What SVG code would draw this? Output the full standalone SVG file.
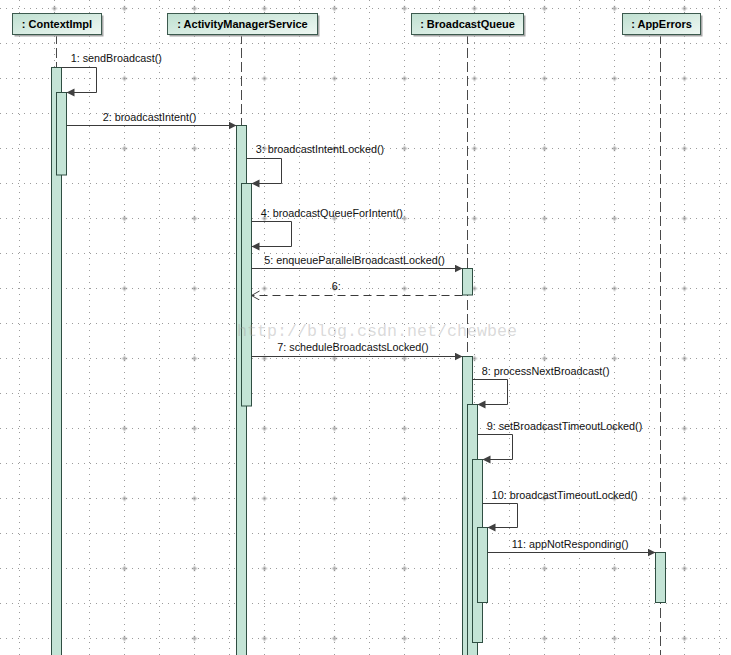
<svg xmlns="http://www.w3.org/2000/svg" width="731" height="655" viewBox="0 0 731 655">
<style>
.g{stroke:#9c9c9c;stroke-width:1;stroke-dasharray:1,5;fill:none}
.hd{fill:url(#hg);stroke:#3c5a4e;stroke-width:1}
.sh{fill:#a8a8a8}
.ht{font-family:"Liberation Sans",Arial,sans-serif;font-size:11px;font-weight:bold;fill:#000;text-anchor:middle}
.ll{stroke:#4a4a4a;stroke-width:1;stroke-dasharray:10,4;fill:none}
.ac{fill:#c4e4d6;stroke:#2f4e42;stroke-width:1}
.m{stroke:#3a3a3a;stroke-width:1;fill:none;marker-end:url(#af)}
.r{stroke:#3a3a3a;stroke-width:1;fill:none;stroke-dasharray:8,5;marker-end:url(#ao)}
.t{font-family:"Liberation Sans",Arial,sans-serif;font-size:10.8px;fill:#111}
</style>
<defs>
<linearGradient id="hg" x1="0" y1="0" x2="1" y2="1">
<stop offset="0" stop-color="#bfe0d1"/>
<stop offset="1" stop-color="#eef7f2"/>
</linearGradient>
<pattern id="cp" patternUnits="userSpaceOnUse" x="19.5" y="-26.5" width="70" height="70">
<path d="M32.5,35H37.5M35,32.5V37.5" stroke="#8a8a8a" stroke-width="1"/>
</pattern>
<marker id="af" markerUnits="userSpaceOnUse" markerWidth="9" markerHeight="9" refX="8" refY="4" orient="auto">
<path d="M0,0L8,4L0,8z" fill="#404040"/>
</marker>
<marker id="ao" markerUnits="userSpaceOnUse" markerWidth="10" markerHeight="10" refX="8" refY="4.5" orient="auto">
<path d="M0,0L8,4.5L0,9" fill="none" stroke="#404040" stroke-width="1"/>
</marker>
</defs>
<rect width="731" height="655" fill="#fff"/>
<g id="grid">
<path class="g" d="M19.5,0V655M54.5,0V655M89.5,0V655M124.5,0V655M159.5,0V655M194.5,0V655M229.5,0V655M264.5,0V655M299.5,0V655M334.5,0V655M369.5,0V655M404.5,0V655M439.5,0V655M474.5,0V655M509.5,0V655M544.5,0V655M579.5,0V655M614.5,0V655M649.5,0V655M684.5,0V655M719.5,0V655"/>
<path class="g" d="M0,8.5H731M0,43.5H731M0,78.5H731M0,113.5H731M0,148.5H731M0,183.5H731M0,218.5H731M0,253.5H731M0,288.5H731M0,323.5H731M0,358.5H731M0,393.5H731M0,428.5H731M0,463.5H731M0,498.5H731M0,533.5H731M0,568.5H731M0,603.5H731M0,638.5H731"/>
<rect width="731" height="655" fill="url(#cp)"/>
</g>
<g id="lifelines">
<path class="ll" d="M56.5,34V655"/>
<path class="ll" d="M241.5,34V655"/>
<path class="ll" d="M467.5,34V655"/>
<path class="ll" d="M660.5,34V655"/>
</g>
<g id="ContextImpl">
<rect class="sh" x="14.5" y="15.5" width="89" height="21"/>
<rect class="hd" x="12.5" y="13.5" width="89" height="21"/>
<text class="ht" x="57" y="28">: ContextImpl</text>
<rect class="ac" x="51.5" y="67.5" width="10" height="600"/>
<rect class="ac" x="56.5" y="92.5" width="10" height="82.5"/>
</g>
<g id="ActivityManagerService">
<rect class="sh" x="169.5" y="15.5" width="150" height="21"/>
<rect class="hd" x="167.5" y="13.5" width="150" height="21"/>
<text class="ht" x="242.5" y="28">: ActivityManagerService</text>
<rect class="ac" x="236.5" y="125.5" width="10" height="550"/>
<rect class="ac" x="241.5" y="183.5" width="10" height="222.5"/>
</g>
<g id="BroadcastQueue">
<rect class="sh" x="413.5" y="15.5" width="112" height="21"/>
<rect class="hd" x="411.5" y="13.5" width="112" height="21"/>
<text class="ht" x="467.5" y="28">: BroadcastQueue</text>
<rect class="ac" x="462.5" y="268.5" width="10" height="26.5"/>
<rect class="ac" x="462.5" y="356.5" width="10" height="320"/>
<rect class="ac" x="467.5" y="404.5" width="10" height="270"/>
<rect class="ac" x="472.5" y="459.5" width="10" height="183"/>
<rect class="ac" x="477.5" y="527.5" width="10" height="75"/>
</g>
<g id="AppErrors">
<rect class="sh" x="624.5" y="15.5" width="78" height="21"/>
<rect class="hd" x="622.5" y="13.5" width="78" height="21"/>
<text class="ht" x="661.5" y="28">: AppErrors</text>
<rect class="ac" x="655.5" y="552.5" width="10" height="50"/>
</g>
<g id="connectors">
<path class="m" d="M61.5,67.5H96.5V92.5H66.5"/>
<text class="t" x="70.7" y="62">1:  sendBroadcast()</text>
<path class="m" d="M66.5,125.5H236.5"/>
<text class="t" x="102.7" y="120.5">2:  broadcastIntent()</text>
<path class="m" d="M246.5,158.5H281.5V183.5H251.5"/>
<text class="t" x="255.7" y="153">3: broadcastIntentLocked()</text>
<path class="m" d="M251.5,221.5H291.5V246.5H251.5"/>
<text class="t" x="260.7" y="216.5">4:  broadcastQueueForIntent()</text>
<path class="m" d="M251.5,268.5H462.5"/>
<text class="t" x="264.3" y="264">5:  enqueueParallelBroadcastLocked()</text>
<path class="r" d="M462.5,295.5H251.5"/>
<text class="t" x="331.7" y="290">6:</text>
<path class="m" d="M251.5,356.5H462.5"/>
<text class="t" x="277.3" y="350.5">7:  scheduleBroadcastsLocked()</text>
<path class="m" d="M472.5,379.5H507.5V404.5H477.5"/>
<text class="t" x="481.7" y="374.5">8:  processNextBroadcast()</text>
<path class="m" d="M477.5,434.5H512.5V459.5H482.5"/>
<text class="t" x="486.7" y="430">9:  setBroadcastTimeoutLocked()</text>
<path class="m" d="M482.5,503.5H517.5V527.5H487.5"/>
<text class="t" x="491.7" y="499">10:  broadcastTimeoutLocked()</text>
<path class="m" d="M487.5,552.5H655.5"/>
<text class="t" x="511.7" y="548">11:  appNotResponding()</text>
</g>
<text x="237" y="336" font-family="'Liberation Mono','Courier New',monospace" font-size="17" fill="#a0a0a0" fill-opacity="0.4" textLength="280" lengthAdjust="spacingAndGlyphs">http://blog.csdn.net/chewbee</text>
</svg>
